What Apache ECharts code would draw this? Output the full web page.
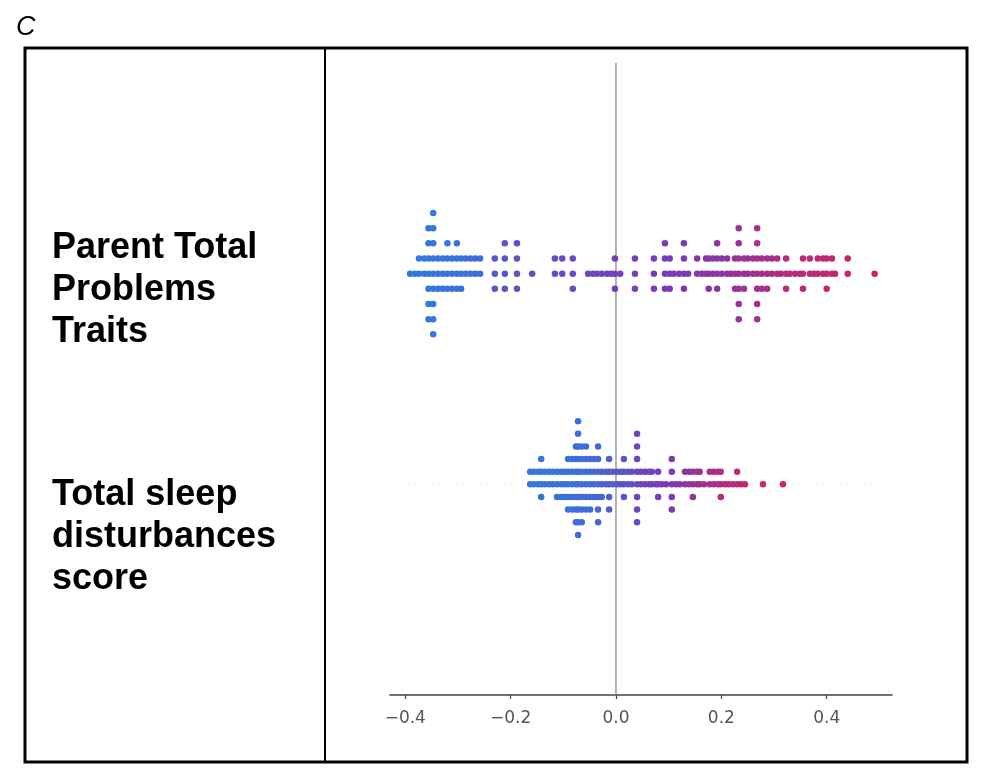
<!DOCTYPE html>
<html><head><meta charset="utf-8">
<script src="https://cdn.jsdelivr.net/npm/echarts@6/dist/echarts.min.js"></script>
<style>html,body{margin:0;padding:0;background:#fff}#c{width:982px;height:768px}</style>
</head><body><div id="c"></div>
<script>
// Features, bottom to top (y position = index)
const featureLabels = ['Total sleep\ndisturbances\nscore', 'Parent Total\nProblems\nTraits'];
const tickValues = [-0.4, -0.2, 0.0, 0.2, 0.4];
const panelLetter = 'C';

// Parent Total Problems Traits: SHAP value of each swarm column, dots in column, feature value (0 low / 1 high)
const ptpShap = [-0.391,-0.382,-0.374,-0.364,-0.356,-0.347,-0.338,-0.329,-0.320,-0.311,-0.302,-0.294,-0.285,-0.276,-0.267,-0.258,
  -0.230,-0.211,-0.188,-0.159,
  -0.116,-0.102,-0.082,
  -0.053,-0.044,-0.036,-0.027,-0.017,-0.009,-0.002,0.008,
  0.036,0.072,
  0.093,0.102,0.110,0.120,0.129,0.137,
  0.154,0.163,0.171,0.176,0.184,0.192,0.201,0.211,0.218,
  0.226,0.233,0.243,0.250,0.260,0.268,0.277,0.287,0.296,0.306,0.313,0.323,0.330,0.340,0.349,0.355,0.368,0.376,0.383,0.393,0.400,0.410,0.416,0.440,0.491];
const ptpCount = [1,1,2,2,7,9,3,3,4,3,4,3,2,2,2,2,
  3,4,4,1,
  2,2,3,
  1,1,1,1,1,1,3,1,
  3,3,
  4,3,1,1,4,1,
  2,1,2,3,2,4,2,2,1,
  3,7,3,2,2,7,3,3,2,2,1,3,1,1,1,3,2,1,2,2,3,2,1,2,1];
const ptpFeat = [0.04,0.05,0.05,0.06,0.05,0.06,0.07,0.07,0.08,0.08,0.09,0.1,0.1,0.12,0.12,0.13,
  0.3,0.3,0.32,0.35,
  0.38,0.38,0.4,
  0.42,0.42,0.43,0.43,0.44,0.44,0.45,0.45,
  0.45,0.47,
  0.5,0.5,0.5,0.52,0.52,0.52,
  0.55,0.55,0.56,0.57,0.58,0.6,0.6,0.62,0.62,
  0.64,0.65,0.66,0.68,0.68,0.7,0.72,0.72,0.74,0.76,0.78,0.8,0.8,0.8,0.82,0.82,0.83,0.84,0.84,0.85,0.85,0.86,0.86,0.88,0.9];

// Total sleep disturbances score
const tsdShap = [-0.163,-0.156,-0.148,-0.142,-0.135,-0.127,-0.120,-0.112,-0.104,-0.097,
  -0.091,-0.083,-0.076,-0.072,-0.065,-0.057,-0.049,-0.042,-0.034,-0.027,
  -0.019,-0.013,-0.006,0.002,0.009,0.015,0.023,0.030,
  0.040,0.047,0.055,0.063,0.068,0.076,0.080,0.087,0.095,
  0.106,0.114,0.121,0.131,0.139,0.146,0.154,0.159,0.167,
  0.178,0.186,0.194,0.199,0.207,0.214,0.222,0.230,0.237,0.245,
  0.279,0.317];
const tsdCount = [2,2,2,4,2,2,2,3,3,3,
  5,5,7,10,7,6,5,4,7,3,
  2,5,2,2,2,4,2,2,
  8,2,2,2,2,1,3,1,1,
  5,1,1,2,2,3,2,2,1,
  2,2,2,3,1,1,1,2,1,1,
  1,1];
const tsdFeat = [0.05,0.06,0.06,0.07,0.07,0.08,0.08,0.09,0.09,0.1,
  0.1,0.11,0.12,0.12,0.13,0.14,0.15,0.17,0.18,0.2,
  0.22,0.24,0.26,0.28,0.3,0.32,0.34,0.36,
  0.4,0.42,0.44,0.45,0.46,0.48,0.48,0.5,0.5,
  0.52,0.55,0.56,0.6,0.62,0.64,0.66,0.68,0.7,
  0.72,0.74,0.76,0.78,0.8,0.8,0.82,0.84,0.85,0.86,
  0.88,0.92];

const X_MIN = -0.429, X_MAX = 0.524;

// beeswarm stacking as in SHAP: lanes 0, +1, -1, +2, -2 ...
function swarm(shap, count, feat, pos) {
  const pts = []; let maxLane = 0;
  shap.forEach((x, i) => {
    for (let k = 0; k < count[i]; k++) {
      const lane = Math.ceil(k / 2) * (k % 2 ? 1 : -1);
      maxLane = Math.max(maxLane, lane);
      pts.push([x, lane, feat[i]]);
    }
  });
  const step = 0.9 * 0.4 / (maxLane + 1);
  return pts.map(p => [p[0], pos + p[1] * step, p[2]]);
}

const dots = swarm(tsdShap, tsdCount, tsdFeat, 0).concat(swarm(ptpShap, ptpCount, ptpFeat, 1));

const chart = echarts.init(document.getElementById('c'));
const labelFont = 'bold 36px "Liberation Sans", Arial, sans-serif';
chart.setOption({
  animation: false,
  backgroundColor: '#ffffff',
  grid: { left: 390, right: 90, top: 63, bottom: 73 },
  xAxis: {
    type: 'value', min: X_MIN, max: X_MAX,
    axisLine: { show: true, onZero: false, lineStyle: { color: '#444', width: 1.6 } },
    axisTick: { show: true, length: 4, customValues: tickValues, lineStyle: { color: '#444', width: 1.2 } },
    axisLabel: { customValues: tickValues, margin: 15, color: '#555', fontSize: 17, fontFamily: '"DejaVu Sans", sans-serif',
      formatter: v => v.toFixed(1).replace('-', '\u2212') },
    splitLine: { show: false }
  },
  yAxis: { type: 'value', min: -1, max: 2, show: false },
  visualMap: {
    type: 'continuous', show: false, dimension: 2, min: 0, max: 1, seriesIndex: 3,
    inRange: { color: ['#2a7fe2', '#7a3ab8', '#dc2252'] }
  },
  series: [
    { type: 'line', silent: true, symbol: 'none', z: 1,
      data: [[0, -1], [0, 2]], lineStyle: { color: '#999999', width: 1.5 } },
    { type: 'line', silent: true, symbol: 'none', z: 1,
      data: [[X_MIN, 0], [X_MAX, 0]], lineStyle: { color: '#e0e0e0', width: 1, type: [1, 5] } },
    { type: 'line', silent: true, symbol: 'none', z: 1,
      data: [[X_MIN, 1], [X_MAX, 1]], lineStyle: { color: '#e0e0e0', width: 1, type: [1, 5] } },
    { type: 'scatter', symbol: 'circle', symbolSize: 6.5, z: 3, data: dots, itemStyle: { opacity: 1 } }
  ],
  graphic: [
    { type: 'rect', shape: { x: 25, y: 48, width: 942, height: 714 }, style: { fill: 'none', stroke: '#000', lineWidth: 3 }, z: 10 },
    { type: 'line', shape: { x1: 325, y1: 48, x2: 325, y2: 762 }, style: { stroke: '#000', lineWidth: 2 }, z: 10 },
    { type: 'text', left: 16, top: 14, style: { text: panelLetter, font: 'italic 27px "Liberation Sans", Arial, sans-serif', fill: '#000' } },
    { type: 'text', x: 52, y: 290, style: { text: featureLabels[1], font: labelFont, fill: '#000', lineHeight: 42, verticalAlign: 'middle', align: 'left' } },
    { type: 'text', x: 52, y: 537, style: { text: featureLabels[0], font: labelFont, fill: '#000', lineHeight: 42, verticalAlign: 'middle', align: 'left' } }
  ]
});
</script>
</body></html>
